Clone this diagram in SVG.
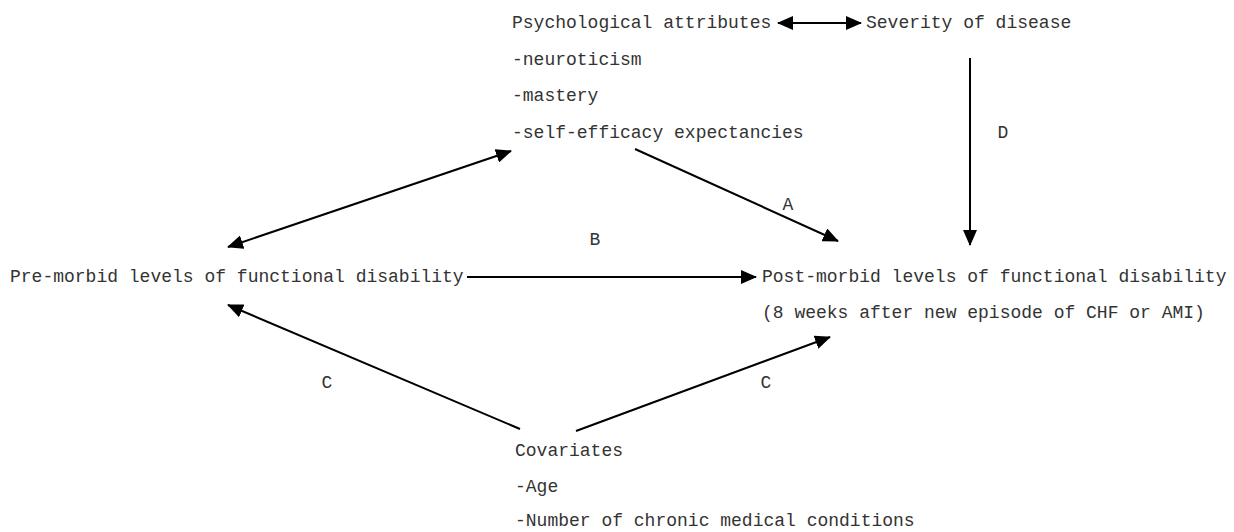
<svg xmlns="http://www.w3.org/2000/svg" width="1234" height="532" viewBox="0 0 1234 532">
<style>
text{font-family:"Courier New","Liberation Mono",monospace;font-size:18px;fill:#333;}
.c{stroke:#000;stroke-width:2;fill:none;}
</style>
<defs>
<marker id="ah" markerUnits="userSpaceOnUse" markerWidth="16" markerHeight="14" refX="15" refY="7" orient="auto-start-reverse" viewBox="0 0 16 14">
<path d="M0,0 L16,7 L0,14 z" fill="#000"/>
</marker>
</defs>
<rect width="1234" height="532" fill="#fff"/>
<g id="connectors">
<line class="c" x1="778" y1="23" x2="861" y2="23" marker-start="url(#ah)" marker-end="url(#ah)"/>
<line class="c" x1="970" y1="58" x2="970" y2="245" marker-end="url(#ah)"/>
<line class="c" x1="635" y1="149" x2="838" y2="241" marker-end="url(#ah)"/>
<line class="c" x1="228" y1="247" x2="511" y2="151" marker-start="url(#ah)" marker-end="url(#ah)"/>
<line class="c" x1="467" y1="277" x2="756" y2="277" marker-end="url(#ah)"/>
<line class="c" x1="520" y1="429" x2="228" y2="305" marker-end="url(#ah)"/>
<line class="c" x1="576" y1="431" x2="830" y2="337" marker-end="url(#ah)"/>
<text x="1003" y="138" text-anchor="middle">D</text>
<text x="788" y="210" text-anchor="middle">A</text>
<text x="595" y="245" text-anchor="middle">B</text>
<text x="327" y="388" text-anchor="middle">C</text>
<text x="766" y="388" text-anchor="middle">C</text>
</g>
<g id="psych">
<text x="512" y="28">Psychological attributes</text>
<text x="512" y="65">-neuroticism</text>
<text x="512" y="101">-mastery</text>
<text x="512" y="138">-self-efficacy expectancies</text>
</g>
<g id="severity">
<text x="866" y="28">Severity of disease</text>
</g>
<g id="premorbid">
<text x="10" y="282">Pre-morbid levels of functional disability</text>
</g>
<g id="postmorbid">
<text x="762" y="282">Post-morbid levels of functional disability</text>
<text x="762" y="318">(8 weeks after new episode of CHF or AMI)</text>
</g>
<g id="covariates">
<text x="515" y="456">Covariates</text>
<text x="515" y="492">-Age</text>
<text x="515" y="526">-Number of chronic medical conditions</text>
</g>
</svg>
